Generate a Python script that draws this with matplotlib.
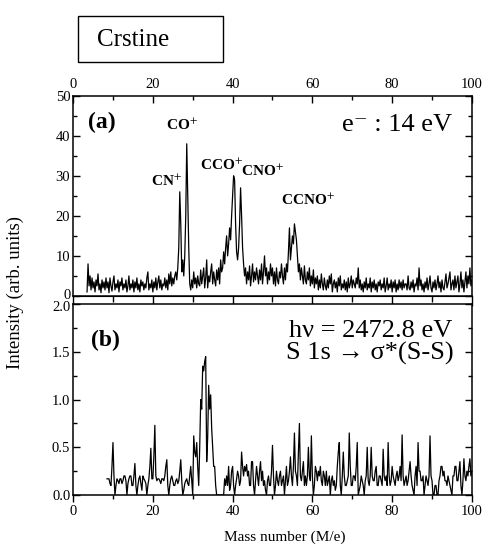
import numpy as np
import matplotlib
matplotlib.use("Agg")
import matplotlib.pyplot as plt
from matplotlib.patches import Rectangle
from matplotlib.ticker import MultipleLocator, FormatStrFormatter
from matplotlib.transforms import ScaledTranslation

plt.rcParams['font.family'] = ['Liberation Serif', 'DejaVu Serif']
plt.rcParams['mathtext.fontset'] = 'stix'

# (a) electron impact, 14 eV -- mass grid starts at 3.5, step 0.25
mass_a = np.arange(3.5, 100.001, 0.25)
counts_a = [
    1.0, 8.0, 2.5, 5.0, 1.5, 4.5, 2.0, 3.5, 1.0, 4.0, 2.5, 5.5, 1.5, 3.0, 0.8, 4.0, 2.0, 3.5, 1.5, 4.5,  # 3.5
    2.0, 3.5, 0.8, 4.5, 2.5, 1.2, 3.5, 5.0, 1.5, 3.0, 2.0, 4.0, 1.0, 3.5, 2.5, 4.5, 1.5, 3.0, 2.0, 4.0,  # 8.5
    1.0, 2.5, 5.0, 1.5, 3.0, 2.0, 4.0, 1.0, 3.5, 2.0, 4.5, 1.5, 3.0, 1.0, 4.0, 2.5, 3.5, 1.5, 3.0, 2.0,  # 13.5
    4.5, 6.0, 1.5, 3.0, 2.0, 4.0, 1.0, 3.5, 2.0, 4.5, 1.5, 3.5, 5.0, 2.0, 4.0, 1.5, 3.0, 2.5, 4.5, 2.0,  # 18.5
    4.0, 1.5, 5.5, 3.0, 6.0, 2.5, 4.5, 3.0, 5.0, 6.0, 4.0, 7.0, 12.0, 26.0, 18.0, 6.0, 9.0, 5.0, 10.0, 20.0,  # 23.5
    38.0, 25.0, 12.0, 3.0, 1.5, 4.0, 2.0, 6.0, 3.0, 4.5, 2.0, 5.0, 3.0, 2.5, 6.5, 3.0, 5.0, 7.0, 2.0, 4.5,  # 28.5
    9.0, 2.0, 5.0, 3.5, 6.0, 8.0, 3.0, 6.0, 4.0, 2.5, 6.5, 4.0, 7.0, 3.0, 9.0, 6.0, 7.0, 11.0, 8.0, 12.0,  # 33.5
    15.0, 10.0, 13.0, 17.0, 14.0, 20.0, 25.0, 30.0, 29.0, 18.0, 11.0, 9.0, 12.0, 18.0, 27.0, 20.0, 12.0, 8.0, 5.0, 7.0,  # 38.5
    3.0, 6.0, 4.0, 7.5, 2.5, 5.0, 8.0, 3.5, 6.0, 4.0, 7.0, 5.0, 3.0, 6.5, 4.0, 8.0, 3.0, 6.0, 10.0, 5.0,  # 43.5
    7.0, 3.0, 6.0, 4.0, 8.0, 5.0, 7.0, 3.0, 6.0, 2.5, 7.0, 4.0, 3.0, 6.0, 4.5, 8.0, 5.0, 3.0, 7.0, 4.0,  # 48.5
    8.0, 6.0, 11.0, 17.0, 9.0, 12.0, 15.0, 13.0, 18.0, 16.0, 14.0, 10.0, 6.0, 8.0, 4.0, 7.0, 5.0, 3.0, 7.5, 4.0,  # 53.5
    3.0, 6.0, 4.0, 7.0, 2.5, 5.0, 3.0, 6.5, 2.0, 4.5, 3.0, 5.0, 1.5, 4.0, 2.0, 5.5, 3.0, 1.5, 4.5, 2.5,  # 58.5
    1.5, 4.0, 2.0, 5.0, 3.0, 5.5, 1.0, 3.0, 4.0, 2.0, 3.5, 1.0, 4.5, 2.5, 5.0, 1.5, 3.0, 2.0, 4.0, 1.5,  # 63.5
    3.5, 1.0, 4.5, 2.0, 3.0, 5.0, 2.0, 4.0, 3.0, 2.0, 4.5, 3.0, 7.0, 2.0, 4.0, 1.5, 3.0, 1.0, 3.5, 2.0,  # 68.5
    4.5, 1.5, 3.0, 2.0, 4.5, 1.0, 3.5, 2.0, 4.0, 1.5, 3.0, 1.0, 3.5, 2.5, 4.0, 1.5, 3.0, 2.0, 4.5, 1.0,  # 73.5
    2.5, 4.5, 1.5, 3.0, 2.0, 4.0, 1.0, 3.5, 2.0, 4.0, 1.0, 3.0, 1.5, 4.0, 2.0, 3.5, 1.5, 4.0, 2.0, 3.0,  # 78.5
    3.0, 1.5, 5.0, 2.0, 1.5, 3.5, 2.0, 4.0, 1.0, 3.0, 2.5, 4.5, 1.5, 7.0, 2.5, 4.0, 1.5, 3.0, 1.0, 3.5,  # 83.5
    2.0, 4.5, 1.5, 3.0, 5.0, 2.0, 1.0, 3.5, 2.0, 4.0, 1.5, 3.0, 5.0, 2.0, 3.5, 1.0, 4.0, 2.0, 1.5, 3.5,  # 88.5
    5.5, 2.0, 3.0, 4.5, 6.0, 1.5, 3.0, 4.0, 1.5, 5.0, 2.0, 3.5, 5.0, 1.0, 3.0, 6.0, 2.0, 4.0, 1.0, 3.5,  # 93.5
    6.0, 2.0, 5.0, 3.0, 7.0, 2.5, 4.0,                                                                # 98.5 - 100
]

# (b) S 1s -> sigma*(S-S) excitation -- mass grid starts at 8.5, step 0.25
mass_b = np.arange(8.5, 100.001, 0.25)
counts_b = [
    0.17, 0.17, 0.17, 0.12, 0.10, 0.30, 0.55, 0.20, 0.00, 0.10, 0.17, 0.15, 0.12, 0.17, 0.17, 0.12, 0.15, 0.20, 0.20, 0.15,  # 8.5
    0.00, 0.12, 0.17, 0.20, 0.20, 0.10, 0.10, 0.20, 0.33, 0.10, 0.00, 0.10, 0.17, 0.20, 0.12, 0.05, 0.20, 0.17, 0.15, 0.12,  # 13.5
    0.00, 0.10, 0.17, 0.30, 0.49, 0.17, 0.17, 0.40, 0.73, 0.20, 0.15, 0.17, 0.17, 0.15, 0.12, 0.17, 0.17, 0.15, 0.20, 0.30,  # 18.5
    0.37, 0.10, 0.00, 0.10, 0.17, 0.20, 0.15, 0.10, 0.10, 0.15, 0.17, 0.12, 0.15, 0.25, 0.37, 0.15, 0.00, 0.05, 0.12, 0.15,  # 23.5
    0.17, 0.12, 0.10, 0.20, 0.30, 0.15, 0.00, 0.62, 0.45, 0.40, 0.55, 0.30, 0.10, 0.50, 1.00, 0.90, 1.35, 1.30, 1.40, 1.45,  # 28.5
    0.35, 0.60, 1.15, 0.90, 1.05, 0.70, 0.50, 0.30, 0.30, 0.10, 0.00, 0.00, 0.00, 0.00, 0.00, 0.00, 0.00, 0.00, 0.17, 0.10,  # 33.5
    0.20, 0.10, 0.30, 0.05, 0.10, 0.25, 0.30, 0.10, 0.00, 0.10, 0.17, 0.25, 0.20, 0.10, 0.15, 0.45, 0.30, 0.20, 0.30, 0.25,  # 38.5
    0.32, 0.20, 0.25, 0.10, 0.10, 0.35, 0.35, 0.10, 0.00, 0.15, 0.30, 0.20, 0.10, 0.25, 0.35, 0.15, 0.25, 0.10, 0.15, 0.05,  # 43.5
    0.00, 0.15, 0.20, 0.10, 0.10, 0.25, 0.52, 0.20, 0.00, 0.10, 0.25, 0.15, 0.10, 0.20, 0.25, 0.10, 0.15, 0.20, 0.00, 0.15,  # 48.5
    0.30, 0.10, 0.15, 0.25, 0.40, 0.20, 0.10, 0.30, 0.65, 0.25, 0.20, 0.10, 0.45, 0.75, 0.20, 0.15, 0.25, 0.35, 0.10, 0.20,  # 53.5
    0.10, 0.20, 0.50, 0.20, 0.15, 0.62, 0.20, 0.00, 0.10, 0.30, 0.25, 0.15, 0.25, 0.20, 0.30, 0.15, 0.10, 0.25, 0.20, 0.10,  # 58.5
    0.25, 0.10, 0.15, 0.20, 0.00, 0.15, 0.20, 0.10, 0.15, 0.05, 0.10, 0.30, 0.45, 0.55, 0.10, 0.00, 0.20, 0.45, 0.20, 0.10,  # 63.5
    0.10, 0.15, 0.20, 0.65, 0.30, 0.10, 0.10, 0.20, 0.20, 0.15, 0.30, 0.55, 0.00, 0.05, 0.10, 0.20, 0.15, 0.10, 0.00, 0.15,  # 68.5
    0.20, 0.50, 0.15, 0.10, 0.20, 0.50, 0.20, 0.15, 0.15, 0.25, 0.30, 0.10, 0.10, 0.20, 0.20, 0.15, 0.10, 0.48, 0.20, 0.15,  # 73.5
    0.20, 0.10, 0.55, 0.20, 0.10, 0.15, 0.30, 0.20, 0.15, 0.10, 0.20, 0.25, 0.15, 0.20, 0.30, 0.15, 0.63, 0.20, 0.10, 0.15,  # 78.5
    0.20, 0.10, 0.15, 0.25, 0.35, 0.20, 0.10, 0.05, 0.00, 0.20, 0.30, 0.10, 0.55, 0.25, 0.25, 0.15, 0.15, 0.20, 0.00, 0.10,  # 83.5
    0.20, 0.15, 0.10, 0.20, 0.62, 0.20, 0.15, 0.00, 0.00, 0.10, 0.10, 0.00, 0.00, 0.15, 0.20, 0.30, 0.30, 0.20, 0.25, 0.15,  # 88.5
    0.15, 0.10, 0.20, 0.15, 0.10, 0.05, 0.00, 0.20, 0.20, 0.30, 0.30, 0.15, 0.15, 0.25, 0.35, 0.10, 0.00, 0.15, 0.38, 0.20,  # 93.5
    0.15, 0.25, 0.20, 0.30, 0.38, 0.20, 0.25,                                                                          # 98.5 - 100
]

# peak labels in panel (a): text, mass, intensity
ion_labels = ["CN$^{+}$", "CO$^{+}$", "CCO$^{+}$", "CNO$^{+}$", "CCNO$^{+}$"]
ion_mass = [23.4, 27.2, 37.2, 47.6, 58.8]
ion_height = [28.5, 42.5, 32.5, 31.0, 23.8]

fig = plt.figure(figsize=(4.84, 5.47), dpi=100)
ax_a = fig.add_axes([0.151, 0.459, 0.824, 0.366])
ax_b = fig.add_axes([0.151, 0.095, 0.824, 0.349])

for ax in (ax_a, ax_b):
    ax.set_xlim(0, 100)
    ax.xaxis.set_major_locator(MultipleLocator(20))
    ax.xaxis.set_minor_locator(MultipleLocator(10))
    for s in ax.spines.values():
        s.set_linewidth(1.1)
    ax.tick_params(which='both', direction='in', labelsize=10.5, width=1, pad=2)
    ax.tick_params(which='major', length=5)
    ax.tick_params(which='minor', length=3)

# panel (a)
ax_a.plot(mass_a, counts_a, color='black', lw=0.9)
ax_a.set_ylim(0, 50)
ax_a.yaxis.set_major_locator(MultipleLocator(10))
ax_a.yaxis.set_minor_locator(MultipleLocator(5))
ax_a.tick_params(axis='x', which='both', top=True, bottom=False,
                 labeltop=True, labelbottom=False, pad=3.5)
ax_a.tick_params(axis='y', which='both', left=True, right=True)
# short outward ticks on the bottom edge of (a), into the gap
sec = ax_a.secondary_xaxis('bottom')
sec.xaxis.set_major_locator(MultipleLocator(20))
sec.xaxis.set_minor_locator(MultipleLocator(10))
sec.tick_params(which='both', direction='out', labelbottom=False, width=1)
sec.tick_params(which='major', length=7)
sec.tick_params(which='minor', length=4)
ax_a.text(0.038, 0.865, "(a)", transform=ax_a.transAxes, fontsize=17,
          fontweight='bold', va='center', ha='left')
ax_a.text(0.95, 0.855, "e\u207b : 14 eV", transform=ax_a.transAxes,
          fontsize=19, va='center', ha='right')
for lab, m, h in zip(ion_labels, ion_mass, ion_height):
    ax_a.text(m, h, lab, fontsize=11, fontweight='bold', ha='center', va='center')

# panel (b)
ax_b.plot(mass_b, counts_b, color='black', lw=0.9)
ax_b.set_ylim(0, 2.0)
ax_b.yaxis.set_major_locator(MultipleLocator(0.5))
ax_b.yaxis.set_minor_locator(MultipleLocator(0.25))
ax_b.yaxis.set_major_formatter(FormatStrFormatter('%.1f'))
ax_b.tick_params(axis='x', which='both', top=False, bottom=True, direction='out')
ax_b.tick_params(axis='y', which='both', left=True, right=True)
ax_b.text(0.045, 0.81, "(b)", transform=ax_b.transAxes, fontsize=17,
          fontweight='bold', va='center', ha='left')
ax_b.text(0.95, 0.86, "hν = 2472.8 eV", transform=ax_b.transAxes,
          fontsize=19, va='center', ha='right')
ax_b.text(0.955, 0.74, "S 1s → σ*(S-S)", transform=ax_b.transAxes,
          fontsize=19, va='center', ha='right')

fig.text(0.031, 0.466, "Intensity (arb. units)", rotation=90,
         fontsize=13.5, va='center', ha='center')
fig.text(0.589, 0.018, "Mass number (M/e)", fontsize=11, va='center', ha='center')

# "Crstine" box at the top
fig.patches.append(Rectangle((78 / 484, 1 - 62 / 547), 145 / 484, 46 / 547,
                             transform=fig.transFigure, fill=False,
                             edgecolor='black', lw=1.0))
fig.text(97 / 484, 1 - 40 / 547, "Crstine", fontsize=18, va='center', ha='left')

# nudge the "0" of (a) up and the "2.0" of (b) down so they do not collide
fig.canvas.draw()
for t in ax_a.yaxis.get_major_ticks():
    if abs(t.get_loc()) < 1e-9:
        t.label1.set_transform(t.label1.get_transform()
                               + ScaledTranslation(0, 1.5 / 72, fig.dpi_scale_trans))
for t in ax_b.yaxis.get_major_ticks():
    if abs(t.get_loc() - 2.0) < 1e-9:
        t.label1.set_transform(t.label1.get_transform()
                               + ScaledTranslation(0, -1.5 / 72, fig.dpi_scale_trans))

fig.savefig("out.png", dpi=100)
